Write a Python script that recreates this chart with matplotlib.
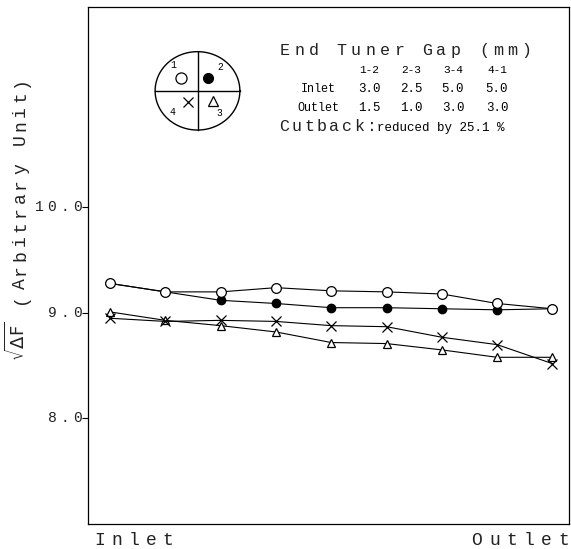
import numpy as np
import matplotlib
matplotlib.use("Agg")
import matplotlib.pyplot as plt
from matplotlib.transforms import offset_copy, blended_transform_factory

# Data (9 positions from inlet to outlet)
positions = np.arange(9)
open_circle = [9.28, 9.20, 9.20, 9.24, 9.21, 9.20, 9.18, 9.09, 9.04]
filled_circle = [9.28, 9.20, 9.12, 9.09, 9.05, 9.05, 9.04, 9.03, 9.04]
cross = [8.95, 8.92, 8.93, 8.92, 8.88, 8.87, 8.77, 8.70, 8.52]
triangle = [9.01, 8.93, 8.88, 8.82, 8.72, 8.71, 8.65, 8.58, 8.58]

yticks = [8.0, 9.0, 10.0]
ytick_labels = ["8.0", "9.0", "10.0"]

gap_cols = ["1-2", "2-3", "3-4", "4-1"]
gap_inlet = ["3.0", "2.5", "5.0", "5.0"]
gap_outlet = ["1.5", "1.0", "3.0", "3.0"]

mono = "Liberation Mono"
W, H = 571, 549

fig = plt.figure(figsize=(W / 100, H / 100), dpi=100)
ax = fig.add_axes([88 / W, 25 / H, 481 / W, 517 / H])


# typewriter style text: one character per fixed pitch (in pixels)
def spaced(s, x, y, pitch, size, transform, dx0=0.0, dy0=0.0, vertical=False):
    for i, ch in enumerate(s):
        if ch == ' ':
            continue
        dx, dy = (dx0, dy0 + i * pitch) if vertical else (dx0 + i * pitch, dy0)
        tr = offset_copy(transform, fig=fig, x=dx, y=dy, units='dots')
        fig.text(x, y, ch, transform=tr, ha='center', va='baseline',
                 rotation=90 if vertical else 0, rotation_mode='anchor',
                 fontfamily=mono, fontsize=size, color='#222222')


def fx(px):
    return px / W


def fy(py):
    return 1 - py / H


lw = 0.8
ax.plot(positions, triangle, 'k-', lw=lw, marker='^', ms=6, mfc='white', mec='k', mew=0.9)
ax.plot(positions, cross, 'k-', lw=lw, marker='x', ms=7, mec='k', mew=0.9)
ax.plot(positions, filled_circle, 'k-', lw=lw, marker='o', ms=6, mfc='k', mec='k')
ax.plot(positions, open_circle, 'k-', lw=lw, marker='o', ms=7, mfc='white', mec='k', mew=0.9)

ax.set_xlim(-0.4, 8.3)
ax.set_ylim(7.0, 11.9)
ax.set_xticks([])
ax.set_yticks(yticks)
ax.set_yticklabels([])
ax.tick_params(axis='y', direction='out', length=4, width=0.8)
for s in ax.spines.values():
    s.set_linewidth(0.9)

# y tick labels, right edge about 5 px left of the spine
ytr = blended_transform_factory(ax.transAxes, ax.transData)
for v, lab in zip(yticks, ytick_labels):
    n = len(lab)
    spaced(lab, 0, v, 12.5, 10.5, ytr, dx0=-11 - (n - 1) * 12.5, dy0=-4)

# y axis label
fig.text(fx(25), fy(341.6), r'$\sqrt{\Delta \mathrm{F}}$', rotation=90, rotation_mode='anchor',
         ha='center', va='baseline', fontsize=13, color='#222222')
spaced(' (Arbitrary Unit)', fx(25), fy(356 - 3 * 14.4), 14.4, 13, fig.transFigure, vertical=True)

# x end labels
spaced('Inlet', fx(100), fy(545), 17, 13, fig.transFigure)
spaced('Outlet', fx(477), fy(545), 17.3, 13, fig.transFigure)

# Table of end tuner gaps
spaced('End Tuner Gap (mm)', fx(285), fy(55), 14.2, 12, fig.transFigure)
col_x = [369, 411, 453, 497]
for cx, c, a, b in zip(col_x, gap_cols, gap_inlet, gap_outlet):
    fig.text(fx(cx), fy(70), c, ha='center', va='center', fontfamily=mono, fontsize=8)
    fig.text(fx(cx), fy(89), a, ha='center', va='center', fontfamily=mono, fontsize=9)
    fig.text(fx(cx), fy(108), b, ha='center', va='center', fontfamily=mono, fontsize=9)
fig.text(fx(318), fy(89), 'Inlet', ha='center', va='center', fontfamily=mono, fontsize=8.5)
fig.text(fx(318), fy(108), 'Outlet', ha='center', va='center', fontfamily=mono, fontsize=8.5)
spaced('Cutback:', fx(284), fy(131), 12.6, 12, fig.transFigure)
fig.text(fx(377), fy(131), 'reduced by 25.1 %', ha='left', va='baseline', fontfamily=mono, fontsize=9)

# Tuner position sketch
ax2 = fig.add_axes([153 / W, (H - 132) / H, 89 / W, 82.3 / H])
ax2.set_xlim(-1.05, 1.05)
ax2.set_ylim(-1.05, 1.05)
ax2.axis('off')
th = np.linspace(0, 2 * np.pi, 200)
ax2.plot(np.cos(th), np.sin(th), 'k-', lw=1.0)
ax2.plot([-1, 1], [0, 0], 'k-', lw=1.0)
ax2.plot([0, 0], [-1, 1], 'k-', lw=1.0)
ax2.plot(-0.39, 0.33, 'o', ms=8, mfc='white', mec='k', mew=0.9)
ax2.plot(0.25, 0.33, 'o', ms=7, mfc='k', mec='k')
ax2.plot(-0.22, -0.28, 'x', ms=7, mec='k', mew=0.9)
ax2.plot(0.37, -0.26, '^', ms=7, mfc='white', mec='k', mew=0.9)
for lx, ly, lab in [(-0.58, 0.66, '1'), (0.53, 0.61, '2'), (-0.58, -0.54, '4'), (0.51, -0.56, '3')]:
    ax2.text(lx, ly, lab, ha='center', va='center', fontfamily=mono, fontsize=7)

fig.savefig('out.png', dpi=100)
